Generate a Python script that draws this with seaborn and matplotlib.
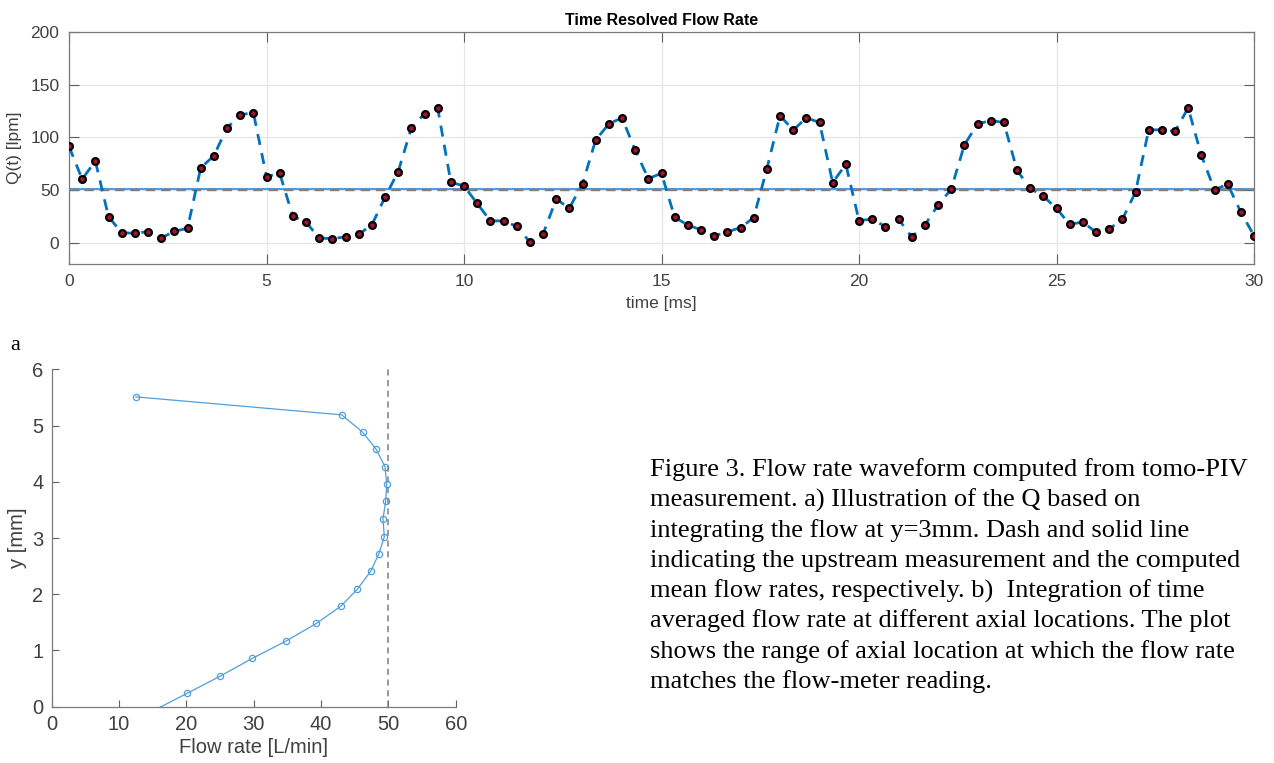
import numpy as np
import pandas as pd
import matplotlib
matplotlib.use("Agg")
import matplotlib.pyplot as plt
import seaborn as sns

# ---------------- data ----------------
dt_ms = 1.0 / 3.0
Q_lpm = [91.5, 60.4, 77.7, 24.8, 9.7, 9.1, 10.7, 4.7, 11.0, 13.8,
         71.0, 82.7, 109.0, 121.4, 123.6, 62.9, 66.0, 25.2, 19.8, 4.5,
         4.1, 5.7, 8.2, 17.0, 43.4, 67.6, 108.8, 122.6, 128.0, 57.5,
         54.0, 37.4, 21.0, 20.8, 15.7, 0.9, 8.2, 41.5, 33.0, 56.0,
         97.5, 112.9, 118.6, 88.0, 61.0, 66.0, 24.2, 17.0, 12.3, 6.6,
         10.4, 14.5, 23.9, 70.1, 120.8, 106.9, 118.6, 114.2, 57.2, 74.5,
         21.1, 22.6, 15.4, 22.6, 5.7, 17.0, 35.8, 50.9, 92.8, 112.9,
         116.0, 114.2, 68.9, 51.6, 44.3, 32.7, 17.6, 19.8, 10.1, 13.2,
         22.3, 48.1, 107.2, 107.2, 105.7, 128.0, 83.0, 50.3, 55.7, 29.2,
         6.9]
time_ms = [i * dt_ms for i in range(len(Q_lpm))]
mean_flow = 51.2      # computed mean flow rate (solid line)
upstream_flow = 50.0  # upstream measurement (dashed line)

profile_flow = [12.47, 43.07, 46.19, 48.17, 49.5, 49.75, 49.6, 49.2, 49.4,
                48.56, 47.38, 45.4, 42.97, 39.3, 34.85, 29.8, 25.05, 20.1, 15.1]
profile_y = [5.51, 5.19, 4.88, 4.58, 4.27, 3.96, 3.65, 3.34, 3.02,
             2.71, 2.41, 2.09, 1.79, 1.48, 1.17, 0.86, 0.545, 0.237, -0.07]
meter_reading = 50.0

top_xticks = [0, 5, 10, 15, 20, 25, 30]
top_yticks = [0, 50, 100, 150, 200]
bot_xticks = [0, 10, 20, 30, 40, 50, 60]
bot_yticks = [0, 1, 2, 3, 4, 5, 6]

caption_lines = [
    "Figure 3. Flow rate waveform computed from tomo-PIV",
    "measurement. a) Illustration of the Q based on",
    "integrating the flow at y=3mm. Dash and solid line",
    "indicating the upstream measurement and the computed",
    "mean flow rates, respectively. b)  Integration of time",
    "averaged flow rate at different axial locations. The plot",
    "shows the range of axial location at which the flow rate",
    "matches the flow-meter reading.",
]

# ---------------- style ----------------
sns.set_theme(style="white")
plt.rcParams["font.family"] = ["Liberation Sans", "DejaVu Sans"]
text_col = "#404040"

W, H = 1274, 763
fig = plt.figure(figsize=(W / 100, H / 100), dpi=100)

def rect(l, t, r, b):
    return [l / W, 1 - b / H, (r - l) / W, (b - t) / H]

# ---------------- top: time resolved flow rate ----------------
ax1 = fig.add_axes(rect(69, 32, 1254, 264))
df_t = pd.DataFrame({"t": time_ms, "Q": Q_lpm})
ax1.axhline(mean_flow, color="#5b9bd5", lw=1.5, zorder=1)
ax1.axhline(upstream_flow, color="#7f7f7f", lw=1.7, ls=(0, (4, 2.5)), zorder=2)
sns.lineplot(data=df_t, x="t", y="Q", ax=ax1, color="#0072BD", lw=2.0,
             linestyle=(0, (4, 3)), zorder=3)
sns.scatterplot(data=df_t, x="t", y="Q", ax=ax1, color="#a2142f", s=24,
                edgecolor="black", linewidth=1.6, zorder=4)
ax1.set_xlim(0, 30)
ax1.set_ylim(-20, 200)
ax1.set_xticks(top_xticks)
ax1.set_yticks(top_yticks)
ax1.grid(True, color="#e6e6e6", lw=0.9)
ax1.set_axisbelow(True)
ax1.tick_params(direction="in", length=7, width=0.8, color="#606060",
                labelsize=12.5, labelcolor=text_col, top=True, right=True,
                bottom=True, left=True, pad=7)
for s in ax1.spines.values():
    s.set_visible(True)
    s.set_color("#7a7a7a")
    s.set_linewidth(0.9)
ax1.set_xlabel("time [ms]", fontsize=12.5, color=text_col, labelpad=5)
ax1.set_ylabel("Q(t) [lpm]", fontsize=12.5, color=text_col, labelpad=6)
ax1.set_title("Time Resolved Flow Rate", fontsize=11.5, fontweight="bold",
              color="black", pad=5)

fig.text(10 / W, 1 - 350 / H, "a", fontsize=16, family="Liberation Serif",
         color="black")

# ---------------- bottom: axial profile ----------------
ax2 = fig.add_axes(rect(51.7, 369.3, 455.7, 706.7))
df_p = pd.DataFrame({"flow": profile_flow, "y": profile_y})
sns.lineplot(data=df_p, x="flow", y="y", ax=ax2, sort=False, color="#4f9fdc",
             lw=0.9, marker="o", markersize=4.5, markerfacecolor="none",
             markeredgecolor="#4f9fdc", markeredgewidth=0.9, estimator=None)
ax2.axvline(meter_reading, color="#7f7f7f", lw=1.1, ls=(0, (4, 3)))
ax2.set_xlim(0, 60)
ax2.set_ylim(0, 6)
ax2.set_xticks(bot_xticks)
ax2.set_yticks(bot_yticks)
for side in ("top", "right"):
    ax2.spines[side].set_visible(False)
for side in ("left", "bottom"):
    ax2.spines[side].set_color("#7a7a7a")
    ax2.spines[side].set_linewidth(0.9)
ax2.tick_params(direction="in", length=5, width=0.8, color="#606060",
                labelsize=14.5, labelcolor=text_col, bottom=True, left=True,
                pad=6)
ax2.set_xlabel("Flow rate [L/min]", fontsize=14.5, color=text_col, labelpad=3)
ax2.set_ylabel("y [mm]", fontsize=14.5, color=text_col, labelpad=4)

# ---------------- caption ----------------
y0 = 476
for i, line in enumerate(caption_lines):
    fig.text(650 / W, 1 - (y0 + i * 30.3) / H, line, fontsize=19,
             family="Liberation Serif", color="black", va="baseline", ha="left")

fig.savefig("out.png", dpi=100)
